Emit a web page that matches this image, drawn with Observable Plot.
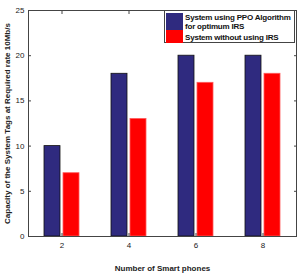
<!DOCTYPE html>
<html>
<head>
<meta charset="utf-8">
<script src="https://cdn.jsdelivr.net/npm/d3@7"></script>
<script src="https://cdn.jsdelivr.net/npm/@observablehq/plot@0.6"></script>
<style>
  html, body { margin: 0; padding: 0; background: #fff; }
  #wrap { position: relative; width: 302px; height: 274px; font-family: "Liberation Sans", Arial, sans-serif; }
  #legend { position: absolute; left: 164px; top: 10px; width: 131px; height: 33px; border: 1px solid #444; box-sizing: border-box; background: #fff; }
  .sw { position: absolute; left: 1px; width: 17px; }
  .lt { position: absolute; left: 20px; font-size: 8px; font-weight: bold; color: #111; line-height: 9px; white-space: nowrap; letter-spacing: -0.2px; }
</style>
</head>
<body>
<div id="wrap"></div>
<script>
const phones = ["2", "4", "6", "8"];
const withPPO = [10, 18, 20, 20];
const withoutIRS = [7, 13, 17, 18];
const yTicks = [0, 5, 10, 15, 20, 25];
const seriesNames = ["System using PPO Algorithm for optimum IRS", "System without using IRS"];
const seriesColors = ["#2f2a7f", "#ff0000"];

const blueData = phones.map((p, i) => ({phone: p, value: withPPO[i]}));
const redData = phones.map((p, i) => ({phone: p, value: withoutIRS[i]}));

const chart = Plot.plot({
  width: 302,
  height: 274,
  marginLeft: 28,
  marginRight: 6,
  marginTop: 10,
  marginBottom: 38,
  style: {fontFamily: "Liberation Sans, Arial, sans-serif", fontSize: "8px", color: "#222", background: "#fff"},
  x: {type: "band", domain: phones, padding: 0, axis: null},
  y: {domain: [0, 25], axis: null},
  marks: [
    Plot.barY(blueData, {x: "phone", y: "value", fill: seriesColors[0], stroke: "#111", strokeWidth: 0.8, insetLeft: 16, insetRight: 35}),
    Plot.barY(redData, {x: "phone", y: "value", fill: seriesColors[1], stroke: "#ff5a5a", strokeWidth: 0.8, insetLeft: 35, insetRight: 16}),
    Plot.frame({stroke: "#444", strokeWidth: 1}),
    Plot.axisY(yTicks, {anchor: "left", tickSize: -3, tickPadding: 7, label: "Capacity of the System Tags at Required rate 10Mb/s", labelArrow: "none", labelAnchor: "center", labelOffset: 24, stroke: "#444"}),
    Plot.axisY(yTicks, {anchor: "right", tickSize: -3, tickFormat: () => "", label: null, stroke: "#444"}),
    Plot.axisX(phones, {anchor: "bottom", tickSize: -3, tickPadding: 9, label: "Number of Smart phones", labelArrow: "none", labelAnchor: "center", labelOffset: 34, stroke: "#444"}),
    Plot.axisX(phones, {anchor: "top", tickSize: -3, tickFormat: () => "", label: null, stroke: "#444"})
  ]
});
chart.querySelectorAll("g[aria-label='y-axis label'] text, g[aria-label='x-axis label'] text").forEach(t => { t.style.fontWeight = "bold"; });
document.getElementById("wrap").appendChild(chart);

const legend = document.createElement("div");
legend.id = "legend";
legend.innerHTML =
  `<div class="sw" style="top:2px;height:17px;background:${seriesColors[0]}"></div>` +
  `<div class="sw" style="top:19px;height:13px;background:${seriesColors[1]}"></div>` +
  `<div class="lt" style="top:2px">System using PPO Algorithm<br>for optimum IRS</div>` +
  `<div class="lt" style="top:22px">${seriesNames[1]}</div>`;
document.getElementById("wrap").appendChild(legend);
</script>
</body>
</html>
